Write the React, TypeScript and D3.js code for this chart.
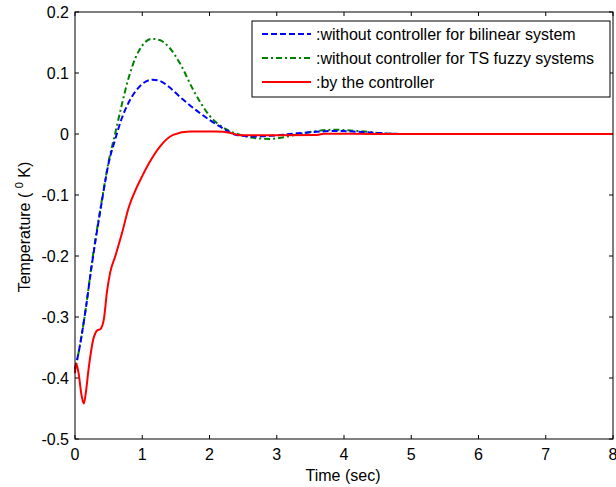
import * as d3 from "d3";
import React from "react";

// time (sec), temperature (K)
const bilinearSeries: [number, number][] = [
  [0, -0.385], [0.03, -0.371], [0.15, -0.294], [0.25, -0.215], [0.4, -0.11],
  [0.5, -0.048], [0.6, -0.008], [0.7, 0.027], [0.8, 0.052], [0.9, 0.07],
  [1.0, 0.082], [1.15, 0.089], [1.26, 0.087], [1.4, 0.077], [1.56, 0.061],
  [1.86, 0.034], [2.16, 0.012], [2.4, -0.0015], [2.65, -0.004], [2.9, -0.003],
  [3.2, 0.0], [3.5, 0.003], [3.9, 0.005], [4.3, 0.003], [4.6, 0.001], [4.83, 0.0],
];

const fuzzySeries: [number, number][] = [
  [0, -0.385], [0.03, -0.371], [0.15, -0.294], [0.25, -0.212], [0.4, -0.108],
  [0.5, -0.045], [0.6, 0.002], [0.7, 0.05], [0.8, 0.093], [0.9, 0.125],
  [1.0, 0.145], [1.145, 0.156], [1.26, 0.154], [1.4, 0.142], [1.56, 0.116],
  [1.76, 0.072], [2.0, 0.03], [2.26, 0.007], [2.45, -0.001], [2.7, -0.007],
  [2.9, -0.008], [3.3, -0.001], [3.6, 0.005], [3.85, 0.007], [4.2, 0.005],
  [4.6, 0.001], [4.83, 0.0],
];

const controllerSeries: [number, number][] = [
  [0, -0.392], [0.015, -0.376], [0.05, -0.39], [0.1, -0.43], [0.13, -0.442],
  [0.16, -0.425], [0.2, -0.387], [0.28, -0.333], [0.33, -0.322], [0.376, -0.32],
  [0.43, -0.303], [0.476, -0.258], [0.525, -0.226], [0.6, -0.2], [0.7, -0.162],
  [0.8, -0.12], [0.9, -0.092], [1.0, -0.069], [1.1, -0.048], [1.26, -0.021],
  [1.46, -0.0015], [1.71, 0.004], [2.1, 0.004], [2.3, 0.002], [2.45, -0.002],
  [3.0, -0.002], [3.6, -0.0015], [3.7, 0.0005], [4.5, 0.0], [8, 0.0],
];

const xTicks = [0, 1, 2, 3, 4, 5, 6, 7, 8];
const yTicks = [-0.5, -0.4, -0.3, -0.2, -0.1, 0, 0.1, 0.2];
const yTickLabels = ["-0.5", "-0.4", "-0.3", "-0.2", "-0.1", "0", "0.1", "0.2"];

const legendItems = [
  { label: ":without controller for bilinear system", color: "#0000ff", dash: "6,3" },
  { label: ":without controller for TS fuzzy systems", color: "#008000", dash: "6,3,2,3" },
  { label: ":by the controller", color: "#ff0000", dash: "" },
];

const W = 616;
const H = 487;
const margin = { top: 12, right: 3, bottom: 48, left: 75 };
const font = "Arial, 'Liberation Sans', sans-serif";

const App = () => {
  const x = d3.scaleLinear().domain([0, 8]).range([margin.left, W - margin.right]);
  const y = d3.scaleLinear().domain([-0.5, 0.2]).range([H - margin.bottom, margin.top]);
  const line = d3
    .line<[number, number]>()
    .x((d) => x(d[0]))
    .y((d) => y(d[1]))
    .curve(d3.curveMonotoneX);

  const x0 = x(0), x1 = x(8), y0 = y(-0.5), y1 = y(0.2);
  const tl = 4;
  const lgX = 252, lgY = 21, lgW = 358, lgH = 76;

  return (
    <div style={{ position: "absolute", left: 0, top: 0 }}>
      <svg width={W} height={H} style={{ display: "block", background: "#fff" }}>
        {/* ticks */}
        <g stroke="#000" strokeWidth={1}>
          {xTicks.map((t) => (
            <g key={"xt" + t}>
              <line x1={x(t)} x2={x(t)} y1={y0} y2={y0 - tl} />
              <line x1={x(t)} x2={x(t)} y1={y1} y2={y1 + tl} />
            </g>
          ))}
          {yTicks.map((t) => (
            <g key={"yt" + t}>
              <line x1={x0} x2={x0 + tl} y1={y(t)} y2={y(t)} />
              <line x1={x1} x2={x1 - tl} y1={y(t)} y2={y(t)} />
            </g>
          ))}
        </g>
        {/* curves */}
        <path d={line(fuzzySeries) || ""} fill="none" stroke="#008000" strokeWidth={2} strokeDasharray="6,3,2,3" />
        <path d={line(bilinearSeries) || ""} fill="none" stroke="#0000ff" strokeWidth={2} strokeDasharray="6,3" />
        <path d={line(controllerSeries) || ""} fill="none" stroke="#ff0000" strokeWidth={2} />
        {/* axes box */}
        <rect x={x0} y={y1} width={x1 - x0} height={y0 - y1} fill="none" stroke="#000" strokeWidth={1} />
        {/* tick labels */}
        <g fontFamily={font} fontSize={16} fill="#000">
          {xTicks.map((t) => (
            <text key={"xl" + t} x={x(t)} y={y0 + 21} textAnchor="middle">{t}</text>
          ))}
          {yTicks.map((t, i) => (
            <text key={"yl" + t} x={x0 - 6} y={y(t) + 6} textAnchor="end">{yTickLabels[i]}</text>
          ))}
          <text x={343} y={y0 + 42} textAnchor="middle">Time (sec)</text>
          <text transform="translate(30,227) rotate(-90)" textAnchor="middle">
            {"Temperature (\u00A0"}<tspan fontSize={11} dy={-7}>0</tspan><tspan dy={7}>{"\u00A0K)"}</tspan>
          </text>
        </g>
        {/* legend */}
        <rect x={lgX} y={lgY} width={lgW} height={lgH} fill="#fff" stroke="#000" strokeWidth={1} />
        {legendItems.map((it, i) => (
          <g key={it.label}>
            <line x1={lgX + 10} x2={lgX + 59} y1={lgY + 13 + i * 24} y2={lgY + 13 + i * 24}
              stroke={it.color} strokeWidth={2} strokeDasharray={it.dash || undefined} />
            <text x={lgX + 64} y={lgY + 19 + i * 24} fontFamily={font} fontSize={16}>{it.label}</text>
          </g>
        ))}
      </svg>
    </div>
  );
};

export default App;
